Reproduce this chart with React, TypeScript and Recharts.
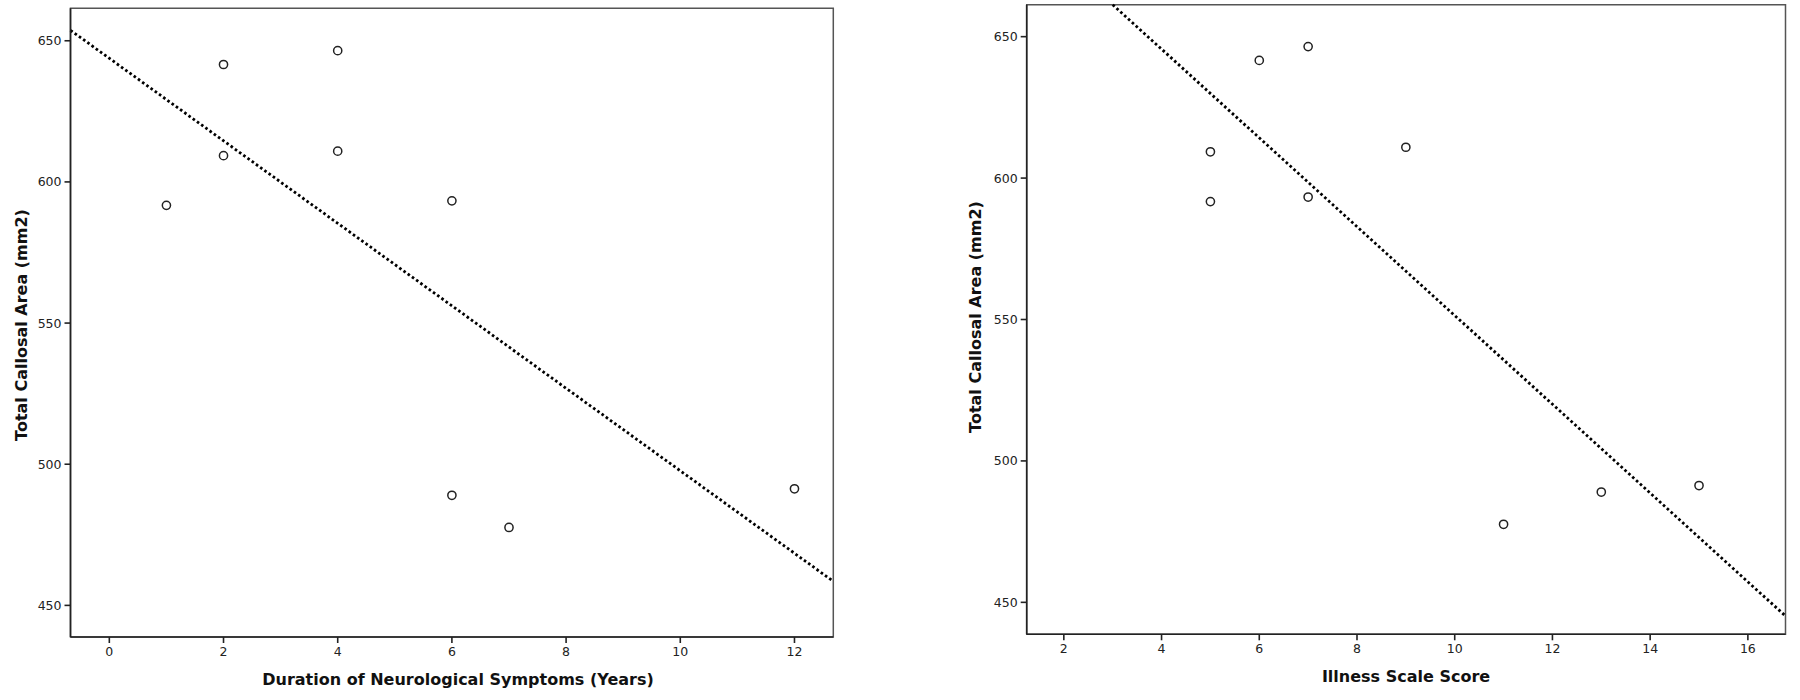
import React from "react";
import {
  ScatterChart,
  Scatter,
  XAxis,
  YAxis,
  ReferenceLine,
  ReferenceArea,
} from "recharts";

// values
const callosalArea = [591.7, 641.6, 609.3, 646.5, 610.9, 593.3, 489.0, 477.6, 491.3];
const durationYears = [1, 2, 2, 4, 4, 6, 6, 7, 12];
const illnessScore = [5, 6, 5, 7, 9, 7, 13, 11, 15];

const yTicks = [450, 500, 550, 600, 650];
const durationTicks = [0, 2, 4, 6, 8, 10, 12];
const illnessTicks = [2, 4, 6, 8, 10, 12, 14, 16];

const leftXDomain: [number, number] = [-0.68, 12.68];
const leftYDomain: [number, number] = [438.8, 661.5];
const rightXDomain: [number, number] = [1.24, 16.77];
const rightYDomain: [number, number] = [438.7, 661.3];

const FONT = "'DejaVu Sans', sans-serif";

// least squares fit line, clipped to the plot box
function fitSegment(xs: number[], ys: number[], xd: [number, number], yd: [number, number]) {
  const n = xs.length;
  const mx = xs.reduce((a, b) => a + b, 0) / n;
  const my = ys.reduce((a, b) => a + b, 0) / n;
  let sxy = 0;
  let sxx = 0;
  xs.forEach((x, i) => {
    sxy += (x - mx) * (ys[i] - my);
    sxx += (x - mx) * (x - mx);
  });
  const m = sxy / sxx;
  const b = my - m * mx;
  const clipX = (x: number) => {
    const y = m * x + b;
    if (y > yd[1]) return (yd[1] - b) / m;
    if (y < yd[0]) return (yd[0] - b) / m;
    return x;
  };
  const x0 = clipX(xd[0]);
  const x1 = clipX(xd[1]);
  return [
    { x: x0, y: m * x0 + b },
    { x: x1, y: m * x1 + b },
  ];
}

const OpenCircle = (props: any) => (
  <circle cx={props.cx} cy={props.cy} r={4.1} fill="none" stroke="#222" strokeWidth={1.5} />
);

interface PlotProps {
  xs: number[];
  xTicks: number[];
  xDomain: [number, number];
  yDomain: [number, number];
  margin: { top: number; right: number; bottom: number; left: number };
}

function Plot({ xs, xTicks, xDomain, yDomain, margin }: PlotProps) {
  const points = xs.map((x, i) => ({ x, y: callosalArea[i] }));
  const seg = fitSegment(xs, callosalArea, xDomain, yDomain);
  const tickStyle = { fontSize: 12.5, fill: "#222", fontFamily: FONT };
  return (
    <ScatterChart width={900} height={700} margin={margin}>
      <ReferenceArea
        x1={xDomain[0]}
        x2={xDomain[1]}
        y1={yDomain[0]}
        y2={yDomain[1]}
        fill="none"
        fillOpacity={0}
        stroke="#555"
        strokeWidth={1.5}
        ifOverflow="visible"
      />
      <XAxis
        type="number"
        dataKey="x"
        domain={xDomain}
        allowDataOverflow
        ticks={xTicks}
        height={30}
        tick={tickStyle}
        tickSize={6}
        tickMargin={4}
        axisLine={{ stroke: "#222", strokeWidth: 1.6 }}
        tickLine={{ stroke: "#222", strokeWidth: 1.6 }}
      />
      <YAxis
        type="number"
        dataKey="y"
        domain={yDomain}
        allowDataOverflow
        ticks={yTicks}
        width={50}
        tick={tickStyle}
        tickSize={6}
        tickMargin={3}
        axisLine={{ stroke: "#222", strokeWidth: 1.6 }}
        tickLine={{ stroke: "#222", strokeWidth: 1.6 }}
      />
      <ReferenceLine
        segment={seg}
        stroke="#000"
        strokeWidth={2.8}
        strokeDasharray="2.6 2.6"
        ifOverflow="visible"
      />
      <Scatter data={points} shape={OpenCircle} isAnimationActive={false} />
    </ScatterChart>
  );
}

const titleStyle: React.CSSProperties = {
  position: "absolute",
  fontFamily: FONT,
  fontWeight: "bold",
  fontSize: 16,
  color: "#111",
  whiteSpace: "nowrap",
  lineHeight: 1,
};

export default function App() {
  return (
    <div
      style={{
        position: "absolute",
        left: 0,
        top: 0,
        width: 1800,
        height: 700,
        background: "#fff",
        overflow: "hidden",
      }}
    >
      <div style={{ position: "absolute", left: 0, top: 0 }}>
        <Plot
          xs={durationYears}
          xTicks={durationTicks}
          xDomain={leftXDomain}
          yDomain={leftYDomain}
          margin={{ top: 8.3, right: 66.7, bottom: 33, left: 20.5 }}
        />
      </div>
      <div style={{ position: "absolute", left: 900, top: 0 }}>
        <Plot
          xs={illnessScore}
          xTicks={illnessTicks}
          xDomain={rightXDomain}
          yDomain={rightYDomain}
          margin={{ top: 4.7, right: 14.5, bottom: 35.7, left: 76.7 }}
        />
      </div>

      <div style={{ ...titleStyle, left: 458, top: 680, transform: "translate(-50%, -50%)" }}>
        Duration of Neurological Symptoms (Years)
      </div>
      <div style={{ ...titleStyle, left: 1406, top: 677, transform: "translate(-50%, -50%)" }}>
        Illness Scale Score
      </div>
      <div
        style={{ ...titleStyle, left: 21.7, top: 325, transform: "translate(-50%, -50%) rotate(-90deg)" }}
      >
        Total Callosal Area (mm2)
      </div>
      <div
        style={{ ...titleStyle, left: 976, top: 317, transform: "translate(-50%, -50%) rotate(-90deg)" }}
      >
        Total Callosal Area (mm2)
      </div>
    </div>
  );
}
